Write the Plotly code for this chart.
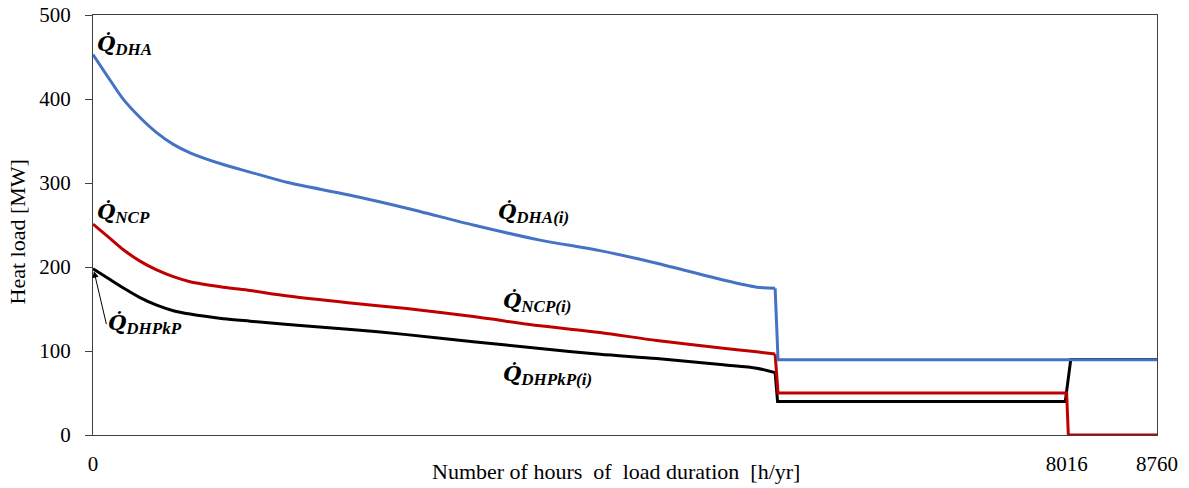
import plotly.graph_objects as go

# Load-duration curve samples (hours, MW)
hours_curve = [0, 140, 250, 387, 524, 661, 799, 1073, 1293, 1605, 2099, 2583, 3131, 3680, 4174, 4641, 5189, 5464, 5616]
dha_curve = [453, 422.6, 399.5, 378, 360, 346, 336, 322, 313, 300.5, 286, 270, 250, 232, 219.5, 204.5, 184.5, 176, 174.6]
ncp_curve = [251, 234, 220.5, 207, 196.5, 188.5, 182.5, 176, 172, 165.5, 157.5, 150.5, 141, 130, 122, 112.5, 103.2, 99, 96.4]
dhpkp_curve = [198, 185, 175, 163.5, 154.5, 148, 144, 138.5, 135.5, 131.5, 126, 119.5, 111, 103, 96, 91, 83.5, 79.5, 74.2]

# Tail segments after the step
dha_tail_hours = [5640, 8760]
dha_tail = [89.5, 89.5]
ncp_tail_hours = [5640, 8016, 8030, 8760]
ncp_tail = [50, 50, 0, 0]
dhpkp_tail_hours = [5636, 8005, 8050, 8760]
dhpkp_tail = [40, 40, 90, 90]

x_tick_vals = [0, 8016, 8760]
x_tick_text = ["0", "8016", "8760"]
y_tick_vals = [0, 100, 200, 300, 400, 500]

series = [
    (dhpkp_curve, dhpkp_tail_hours, dhpkp_tail, "#000000"),
    (ncp_curve, ncp_tail_hours, ncp_tail, "#C00000"),
    (dha_curve, dha_tail_hours, dha_tail, "#4472C4"),
]

fig = go.Figure()
for curve, th, tv, col in series:
    fig.add_trace(go.Scatter(x=hours_curve, y=curve, mode="lines",
                             line=dict(color=col, width=3, shape="spline", smoothing=0.8),
                             showlegend=False, hoverinfo="skip"))
    fig.add_trace(go.Scatter(x=[hours_curve[-1]] + th, y=[curve[-1]] + tv, mode="lines",
                             line=dict(color=col, width=3), showlegend=False, hoverinfo="skip"))

lab_font = dict(family="DejaVu Serif", size=21, color="#000")

def qlabel(sub):
    return ("<b><i>Q\u0307</i></b><sub><span style='font-family:Liberation Serif;"
            "font-size:17px'><b><i>" + sub + "</i></b></span></sub>")

labels = [
    (16, 464, "DHA"),
    (16, 264, "NCP"),
    (3318, 264, "DHA(i)"),
    (3359, 158, "NCP(i)"),
    (3359, 71, "DHPkP(i)"),
]
for x, y, s in labels:
    fig.add_annotation(x=x, y=y, text=qlabel(s), showarrow=False, xanchor="left",
                       yanchor="middle", font=lab_font)

fig.add_annotation(x=8, y=195, ax=110, ay=132, axref="x", ayref="y",
                   text=qlabel("DHPkP"), showarrow=True, arrowhead=2, arrowsize=1.3,
                   arrowwidth=1, arrowcolor="#000", xanchor="left", yanchor="middle",
                   font=lab_font)

fig.add_annotation(x=-0.0705, y=0.4845, xref="paper", yref="paper", text="Heat load [MW]",
                   textangle=-90, showarrow=False, xanchor="center", yanchor="middle",
                   font=dict(family="Liberation Serif", size=22, color="#000"))
fig.add_annotation(x=0.492, y=-0.088, xref="paper", yref="paper",
                   text="Number of hours  of  load duration  [h/yr]", showarrow=False,
                   xanchor="center", yanchor="middle",
                   font=dict(family="Liberation Serif", size=22, color="#000"))

fig.update_layout(
    width=1189, height=488,
    margin=dict(l=93, r=32, t=15, b=53, autoexpand=False),
    plot_bgcolor="white", paper_bgcolor="white",
    xaxis=dict(range=[0, 8760], tickvals=x_tick_vals, ticktext=x_tick_text,
               showgrid=False, zeroline=False, showline=True, linecolor="#404040",
               linewidth=1, mirror=True, ticks="", ticklabelstandoff=10, automargin=False,
               tickfont=dict(family="Liberation Serif", size=21, color="#000")),
    yaxis=dict(range=[0, 500], tickvals=y_tick_vals, showgrid=False, zeroline=False,
               showline=True, linecolor="#404040", linewidth=1, mirror=True,
               ticks="outside", ticklen=7, tickcolor="#404040", ticklabelstandoff=10,
               automargin=False,
               tickfont=dict(family="Liberation Serif", size=21, color="#000")),
)

fig.write_html("out.html", config={"displayModeBar": False},
               post_script="document.body.style.margin='0px';")
